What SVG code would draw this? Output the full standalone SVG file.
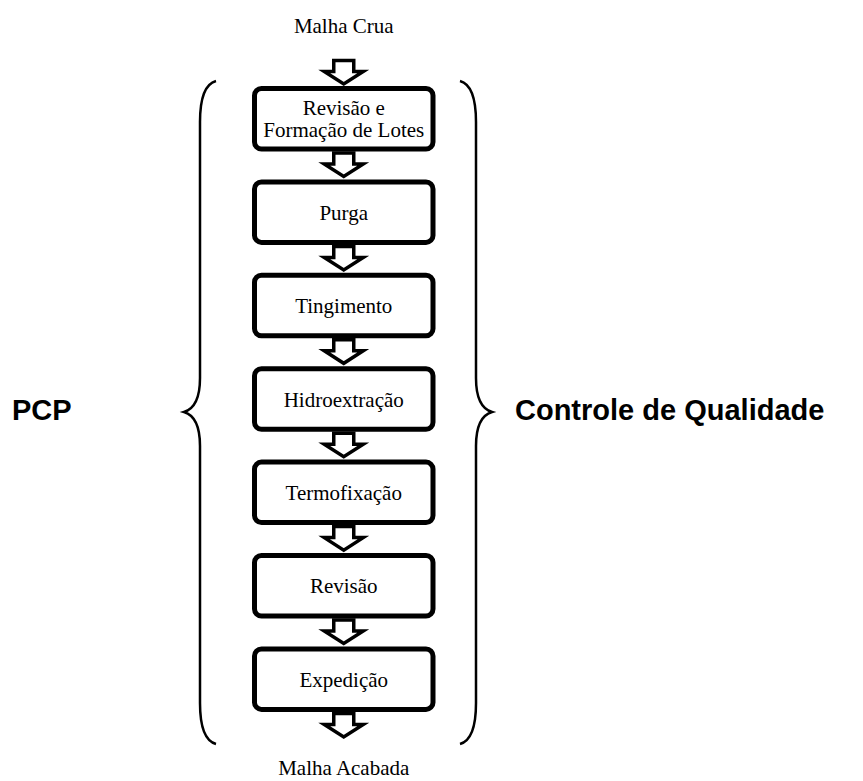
<svg xmlns="http://www.w3.org/2000/svg" width="863" height="781" viewBox="0 0 863 781">
<defs>
<style>
.box{fill:#fff;stroke:#000;stroke-width:5}
.lbl{font-family:"Liberation Serif","Times New Roman",serif;font-size:21px;fill:#000;text-anchor:middle}
.big{font-family:"Liberation Sans",Arial,sans-serif;font-size:29px;font-weight:bold;fill:#000}
.arr{fill:#fff;stroke:#000;stroke-width:3.5;stroke-linejoin:miter}
.brace{fill:none;stroke:#000;stroke-width:2.5}
</style>
<path id="ar" d="M -10,0 H 10 V 11 H 19.5 L 0,23.5 L -19.5,11 H -10 Z"/>
</defs>
<rect width="863" height="781" fill="#fff"/>
<text class="lbl" x="343.75" y="33">Malha Crua</text>
<text class="lbl" x="343.75" y="775">Malha Acabada</text>
<g id="connectors">
<use href="#ar" class="arr" transform="translate(343.75,60.5)"/>
<use href="#ar" class="arr" transform="translate(343.75,153)"/>
<use href="#ar" class="arr" transform="translate(343.75,246.4)"/>
<use href="#ar" class="arr" transform="translate(343.75,339.8)"/>
<use href="#ar" class="arr" transform="translate(343.75,433.2)"/>
<use href="#ar" class="arr" transform="translate(343.75,526.6)"/>
<use href="#ar" class="arr" transform="translate(343.75,620)"/>
<use href="#ar" class="arr" transform="translate(343.75,713.4)"/>
</g>
<g id="n1"><rect class="box" x="254.5" y="88.5" width="178.5" height="60.5" rx="7"/>
<text class="lbl" x="343.75" y="115">Revisão e</text><text class="lbl" x="343.75" y="137">Formação de Lotes</text></g>
<g id="n2"><rect class="box" x="254.5" y="181.9" width="178.5" height="60.5" rx="7"/>
<text class="lbl" x="343.75" y="219.7">Purga</text></g>
<g id="n3"><rect class="box" x="254.5" y="275.3" width="178.5" height="60.5" rx="7"/>
<text class="lbl" x="343.75" y="313.1">Tingimento</text></g>
<g id="n4"><rect class="box" x="254.5" y="368.7" width="178.5" height="60.5" rx="7"/>
<text class="lbl" x="343.75" y="406.5">Hidroextração</text></g>
<g id="n5"><rect class="box" x="254.5" y="462.1" width="178.5" height="60.5" rx="7"/>
<text class="lbl" x="343.75" y="499.9">Termofixação</text></g>
<g id="n6"><rect class="box" x="254.5" y="555.5" width="178.5" height="60.5" rx="7"/>
<text class="lbl" x="343.75" y="593.3">Revisão</text></g>
<g id="n7"><rect class="box" x="254.5" y="648.9" width="178.5" height="60.5" rx="7"/>
<text class="lbl" x="343.75" y="686.7">Expedição</text></g>
<g id="braces">
<path class="brace" d="M 216,81 C 205,84 200,98 200,122 L 200,378 C 200,398 194,409 184,412 C 194,415 200,426 200,446 L 200,703 C 200,727 205,741 216,744"/>
<path class="brace" d="M 460,81 C 471,84 476,98 476,122 L 476,378 C 476,398 482,409 492,412 C 482,415 476,426 476,446 L 476,703 C 476,727 471,741 460,744"/>
</g>
<text class="big" x="12" y="420">PCP</text>
<text class="big" x="515" y="420">Controle de Qualidade</text>
</svg>
